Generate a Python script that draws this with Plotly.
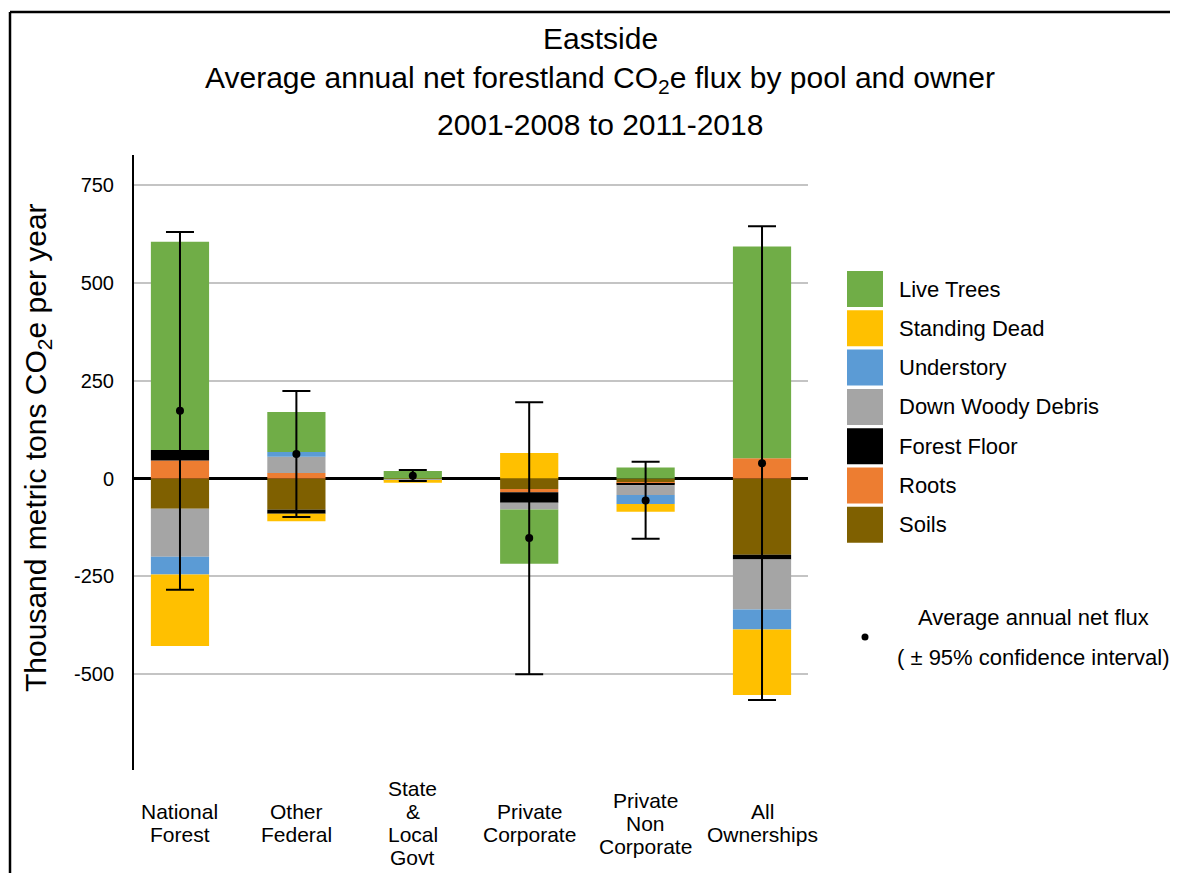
import plotly.graph_objects as go

# ---------------- data ----------------
owners = ["National<br>Forest", "Other<br>Federal", "State<br>&<br>Local<br>Govt",
          "Private<br>Corporate", "Private<br>Non<br>Corporate", "All<br>Ownerships"]

# legend order (top to bottom)
pools = ["Live Trees", "Standing Dead", "Understory", "Down Woody Debris",
         "Forest Floor", "Roots", "Soils"]
colors = ["#70AD47", "#FFC000", "#5B9BD5", "#A5A5A5", "#000000", "#ED7D31", "#7F6000"]

live_trees     = [532, 102, 19, -139, 28, 541]
standing_dead  = [-183, -19, -5, 65, -20, -167]
understory     = [-45, 12, 0, 0, -23, -51]
down_woody     = [-123, 42, -4, -17, -25, -128]
forest_floor   = [27, -10, 0, -27, -5, -12]
roots          = [46, 14, 0, -8, -2, 52]
soils          = [-77, -80, -2, -27, -10, -195]

net_flux  = [173, 63, 7, -152, -56, 39]
ci_upper  = [630, 224, 22, 195, 43, 645]
ci_lower  = [-284, -98, -6, -500, -154, -566]

y_ticks = [-500, -250, 0, 250, 500, 750]

series = [live_trees, standing_dead, understory, down_woody, forest_floor, roots, soils]

# ---------------- geometry helpers ----------------
OFF = 8                      # page body margin of the browser
W, H = 1178 - OFF, 873 - OFF
# plot area in screen pixels
SL, SR, ST, SB = 134, 808, 155, 770
PL, PR, PT, PB = SL - OFF, SR - OFF, ST - OFF, SB - OFF


def px(x):
    """screen pixel x -> paper"""
    return (x - OFF - PL) / (PR - PL)


def py(y):
    """screen pixel y -> paper"""
    return (PB - (y - OFF)) / (PB - PT)


FONT = "Arial, Liberation Sans, sans-serif"

fig = go.Figure()

# stack from zero outward: Soils, Roots, Forest Floor, DWD, Understory, Standing Dead, Live Trees
for name, vals, col in reversed(list(zip(pools, series, colors))):
    fig.add_trace(go.Bar(
        x=owners, y=vals, name=name, marker=dict(color=col, line=dict(width=0)),
        width=0.5, showlegend=False,
    ))

fig.add_trace(go.Scatter(
    x=owners, y=net_flux, mode="markers", showlegend=False,
    marker=dict(color="black", size=8),
    error_y=dict(type="data", symmetric=False,
                 array=[u - n for u, n in zip(ci_upper, net_flux)],
                 arrayminus=[n - l for l, n in zip(ci_lower, net_flux)],
                 color="black", thickness=2, width=14),
))

annotations = []
shapes = []

# title lines
for text, yc in [("Eastside", 38),
                 ("Average annual net forestland CO<sub>2</sub>e flux by pool and owner", 79),
                 ("2001-2008 to 2011-2018", 125)]:
    annotations.append(dict(text=text, x=px(600), y=py(yc), xref="paper", yref="paper",
                            xanchor="center", yanchor="middle", showarrow=False,
                            font=dict(family=FONT, size=30, color="black")))

# y axis title
annotations.append(dict(text="Thousand metric tons CO<sub>2</sub>e per year",
                        x=px(37), y=py(448), xref="paper", yref="paper", textangle=-90,
                        xanchor="center", yanchor="middle", showarrow=False,
                        font=dict(family=FONT, size=30, color="black")))

# category labels (tight line spacing)
for lab in owners:
    lines = lab.split("<br>")
    n = len(lines)
    for i, ln in enumerate(lines):
        yc = 823 + (i - (n - 1) / 2) * 23
        annotations.append(dict(text=ln, x=lab, y=py(yc), xref="x", yref="paper",
                                xanchor="center", yanchor="middle", showarrow=False,
                                font=dict(family=FONT, size=21, color="black")))

# manual legend
for i, (name, col) in enumerate(zip(pools, colors)):
    top = 271 + 39.3 * i
    shapes.append(dict(type="rect", xref="paper", yref="paper",
                       x0=px(847), x1=px(883), y0=py(top), y1=py(top + 36),
                       fillcolor=col, line=dict(width=0)))
    annotations.append(dict(text=name, x=px(897), y=py(top + 18), xref="paper", yref="paper",
                            xanchor="left", yanchor="middle", showarrow=False,
                            font=dict(family=FONT, size=22, color="black")))

shapes.append(dict(type="circle", xref="paper", yref="paper",
                   x0=px(861.5), x1=px(868.5), y0=py(633.5), y1=py(640.5),
                   fillcolor="black", line=dict(width=0)))
annotations.append(dict(text="Average annual net flux", x=px(1033), y=py(617),
                        xref="paper", yref="paper", xanchor="center", yanchor="middle",
                        showarrow=False, font=dict(family=FONT, size=22, color="black")))
annotations.append(dict(text="( ± 95% confidence interval)", x=px(1033), y=py(657),
                        xref="paper", yref="paper", xanchor="center", yanchor="middle",
                        showarrow=False, font=dict(family=FONT, size=22, color="black")))

# image border (top and left)
shapes.append(dict(type="line", xref="paper", yref="paper", x0=px(10), x1=px(1180),
                   y0=py(12), y1=py(12), line=dict(color="black", width=2.5)))
shapes.append(dict(type="line", xref="paper", yref="paper", x0=px(10), x1=px(10),
                   y0=py(12), y1=py(875), line=dict(color="black", width=2.5)))

fig.update_layout(
    width=W, height=H,
    margin=dict(l=PL, r=W - PR, t=PT, b=H - PB, pad=0),
    barmode="relative",
    paper_bgcolor="white", plot_bgcolor="white",
    font=dict(family=FONT, color="black"),
    showlegend=False,
    annotations=annotations,
    shapes=shapes,
    xaxis=dict(range=[-0.395, 5.395], showticklabels=False, showgrid=False,
               zeroline=False, showline=False, ticks=""),
    yaxis=dict(range=[-745, 827], tickvals=y_ticks, ticktext=[str(v) for v in y_ticks],
               showgrid=True, gridcolor="#C4C4C4", gridwidth=2,
               zeroline=True, zerolinecolor="black", zerolinewidth=2.5,
               showline=True, linecolor="black", linewidth=2, ticks="",
               ticklabelstandoff=14,
               tickfont=dict(family=FONT, size=20, color="black")),
)

fig.write_html("out.html")
